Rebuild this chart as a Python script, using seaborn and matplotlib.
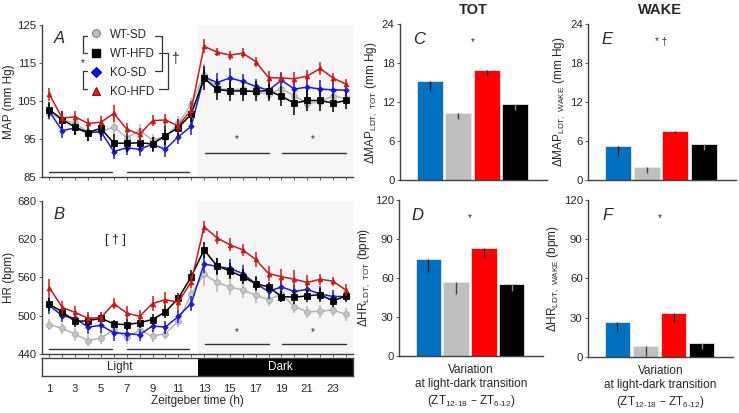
import numpy as np
import pandas as pd
import matplotlib
matplotlib.use("Agg")
import matplotlib.pyplot as plt
from matplotlib.lines import Line2D
import seaborn as sns

# ---------------- data ----------------
zt = list(range(1, 25))
xtick_labels = [str(v) for v in range(1, 24, 2)]

map_wt_sd = [101.9, 100.2, 99.2, 96.9, 96.9, 98.3, 95.4, 97.3, 94.8, 95.6, 99.2, 104.1,
             112.0, 108.6, 108.0, 108.2, 107.2, 107.0, 108.2, 106.5, 104.4, 104.8, 106.5, 105.6]
map_wt_hfd = [102.8, 100.2, 98.2, 96.8, 97.9, 94.0, 94.0, 94.1, 93.8, 96.0, 98.1, 101.6,
              111.1, 108.1, 107.7, 107.7, 107.6, 107.8, 106.3, 104.5, 105.2, 105.2, 104.5, 105.2]
map_ko_sd = [102.3, 97.3, 98.0, 96.7, 97.0, 91.8, 92.8, 92.4, 93.7, 92.4, 95.7, 98.4,
             111.4, 109.9, 111.1, 110.2, 108.9, 107.9, 110.5, 108.2, 108.7, 108.2, 108.0, 107.9]
map_ko_hfd = [106.8, 100.6, 100.9, 99.2, 99.5, 101.8, 97.7, 96.3, 99.9, 100.1, 98.5, 102.8,
              119.4, 117.9, 117.1, 117.6, 115.4, 111.2, 111.1, 110.9, 111.6, 113.6, 111.1, 109.5]

map_wt_sd_err = [1.8, 1.7, 1.8, 2.0, 1.9, 2.5, 1.8, 1.7, 1.5, 1.8, 1.8, 1.8,
                 2.8, 2.0, 1.8, 1.8, 1.6, 1.5, 1.8, 1.5, 1.2, 1.5, 1.5, 1.4]
map_wt_hfd_err = [2.0, 2.2, 2.0, 2.1, 2.2, 2.3, 2.3, 1.8, 1.8, 2.5, 2.2, 2.0,
                  3.2, 2.8, 2.7, 2.6, 2.6, 2.8, 2.5, 3.0, 2.8, 2.7, 2.3, 2.3]
map_ko_sd_err = [2.0, 2.0, 1.8, 2.2, 2.3, 2.0, 1.8, 1.7, 2.0, 2.1, 2.0, 2.2,
                 2.0, 2.5, 2.5, 2.0, 2.0, 2.2, 2.0, 2.4, 2.5, 2.5, 2.2, 1.6]
map_ko_hfd_err = [1.8, 1.5, 1.6, 1.5, 1.7, 2.3, 1.7, 1.6, 1.5, 1.6, 1.8, 2.2,
                  1.8, 1.0, 1.2, 1.3, 1.3, 1.8, 1.6, 1.7, 1.6, 1.6, 1.4, 1.3]

hr_wt_sd = [486, 480, 471, 461, 465, 478, 466, 477, 468, 472, 491, 534,
            565, 552, 545, 540, 532, 525, 534, 514, 506, 507, 509, 502]
hr_wt_hfd = [518, 506, 491, 492, 496, 487, 486, 489, 494, 506, 527, 561,
             603, 578, 570, 561, 550, 545, 530, 529, 531, 533, 523, 531]
hr_ko_sd = [516, 500, 496, 482, 485, 473, 472, 470, 484, 482, 499, 519,
            581, 577, 574, 566, 550, 538, 545, 538, 541, 534, 530, 530]
hr_ko_hfd = [544, 513, 505, 496, 497, 519, 504, 499, 519, 525, 521, 553,
             639, 622, 611, 603, 588, 566, 561, 557, 552, 557, 554, 540]

hr_wt_sd_err = [9, 9, 10, 9, 10, 9, 10, 9, 9, 9, 9, 9, 18, 15, 12, 12, 12, 10, 9, 10, 9, 10, 10, 10]
hr_wt_hfd_err = [10, 8, 9, 9, 8, 7, 9, 8, 8, 10, 8, 10, 12, 12, 12, 12, 10, 8, 8, 10, 9, 10, 9, 8]
hr_ko_sd_err = [14, 10, 9, 10, 12, 12, 12, 9, 10, 10, 10, 12, 14, 14, 15, 14, 12, 12, 12, 10, 12, 12, 10, 8]
hr_ko_hfd_err = [14, 10, 10, 9, 8, 9, 11, 10, 12, 12, 12, 10, 10, 10, 10, 9, 12, 12, 12, 15, 12, 9, 7, 9]

bar_groups = ["KO-SD", "WT-SD", "KO-HFD", "WT-HFD"]
dmap_tot = [15.3, 10.3, 17.0, 11.8]
dmap_tot_err = [1.6, 0.9, 0.9, 1.0]
dmap_wake = [5.3, 2.0, 7.6, 5.6]
dmap_wake_err = [1.4, 0.9, 0.5, 1.0]
dhr_tot = [74.6, 57.1, 82.8, 55.1]
dhr_tot_err = [9.8, 9.5, 7.7, 4.9]
dhr_wake = [26.5, 8.2, 33.4, 10.3]
dhr_wake_err = [7.2, 7.7, 7.2, 4.4]

# ---------------- style ----------------
sns.set_style("ticks")
plt.rcParams["font.family"] = ["Liberation Sans", "DejaVu Sans"]
plt.rcParams["mathtext.default"] = "regular"

W, H = 739, 413
fig = plt.figure(figsize=(W / 100, H / 100), dpi=100)

def rect(l, t, r, b):
    return [l / W, 1 - b / H, (r - l) / W, (b - t) / H]

SP = "#404040"
TFS = 8.2
LFS = 8.5

series = [
    ("WT-SD", dict(color="#b4b4b4", marker="o", mfc="#c4c4c4", mec="#a8a8a8", ms=4.2), "#b4b4b4"),
    ("KO-SD", dict(color="#1c1cc8", marker="D", mfc="#1c1cc8", mec="#1c1cc8", ms=2.8), "#1c1cc8"),
    ("WT-HFD", dict(color="#000000", marker="s", mfc="#000000", mec="#000000", ms=4.0), "#000000"),
    ("KO-HFD", dict(color="#c41a1a", marker="^", mfc="#c41a1a", mec="#c41a1a", ms=3.4), "#c41a1a"),
]
map_vals = {"WT-SD": (map_wt_sd, map_wt_sd_err), "WT-HFD": (map_wt_hfd, map_wt_hfd_err),
            "KO-SD": (map_ko_sd, map_ko_sd_err), "KO-HFD": (map_ko_hfd, map_ko_hfd_err)}
hr_vals = {"WT-SD": (hr_wt_sd, hr_wt_sd_err), "WT-HFD": (hr_wt_hfd, hr_wt_hfd_err),
           "KO-SD": (hr_ko_sd, hr_ko_sd_err), "KO-HFD": (hr_ko_hfd, hr_ko_hfd_err)}

XL = (0.43, 24.55)

def style_line_ax(ax, ylim, yticks):
    ax.set_xlim(*XL)
    ax.set_ylim(*ylim)
    ax.set_yticks(yticks)
    ax.set_xticks(zt)
    ax.set_xticklabels([])
    for s in ["top", "right"]:
        ax.spines[s].set_visible(False)
    for s in ["left", "bottom"]:
        ax.spines[s].set_color(SP)
        ax.spines[s].set_linewidth(1.0)
    ax.tick_params(axis="both", length=2, width=0.6, color=SP, labelsize=TFS, pad=2)
    ax.axvspan(12.5, XL[1], color="#f6f6f6", zorder=0, lw=0)

def draw_lines(ax, vals):
    for i, (name, kw, ec) in enumerate(series):
        y, e = vals[name]
        ax.errorbar(zt, y, yerr=e, fmt="none", ecolor=ec, elinewidth=1.1, capsize=0, zorder=3 + i)
        sns.lineplot(x=zt, y=y, ax=ax, color=kw["color"], marker=kw["marker"],
                     markerfacecolor=kw["mfc"], markeredgecolor=kw["mec"], markersize=kw["ms"],
                     markeredgewidth=0.6, linewidth=1.1, zorder=3.5 + i)

# ---------- Panel A ----------
axA = fig.add_axes(rect(42, 25, 353, 177.5))
style_line_ax(axA, (85, 125), [85, 95, 105, 115, 125])
draw_lines(axA, map_vals)
axA.set_ylabel("MAP (mm Hg)", fontsize=LFS, labelpad=1.5)
axA.text(0.055, 0.91, "A", transform=axA.transAxes, fontsize=12, style="italic", ha="center", va="center")
# significance
axA.plot([1, 5.86], [86.5, 86.5], color="#333333", lw=1)
axA.plot([7, 11.8], [86.5, 86.5], color="#333333", lw=1)
axA.plot([13.1, 18], [91.4, 91.4], color="#333333", lw=1)
axA.plot([19.05, 24], [91.4, 91.4], color="#333333", lw=1)
axA.text(15.5, 95, "*", ha="center", va="center", fontsize=7)
axA.text(21.4, 95, "*", ha="center", va="center", fontsize=7)

# legend
handles = [
    Line2D([], [], ls="none", marker="o", ms=5.6, mfc="#c0c0c0", mec="#808080", mew=0.8),
    Line2D([], [], ls="none", marker="s", ms=5.4, mfc="#000000", mec="#000000"),
    Line2D([], [], ls="none", marker="D", ms=5.2, mfc="#1010ff", mec="#0000a0", mew=0.8),
    Line2D([], [], ls="none", marker="^", ms=5.8, mfc="#e02020", mec="#a00000", mew=0.8),
]
leg = axA.legend(handles, ["WT-SD", "WT-HFD", "KO-SD", "KO-HFD"], loc="upper left",
                 bbox_to_anchor=((90 - 42) / 311, 1 - (28.5 - 25) / 152.5), frameon=False,
                 fontsize=8.3, handlelength=1.0, handletextpad=0.75, labelspacing=0.62,
                 borderpad=0, borderaxespad=0)

def fline(xs, ys, **kw):
    fig.add_artist(Line2D([x / W for x in xs], [1 - y / H for y in ys], color="#333333", lw=0.9, **kw))

r1, r2, r3, r4 = 35.7, 53.0, 71.0, 89.0
fline([87, 83, 83, 87], [r1, r1, r2, r2])
fline([87, 83, 83, 87], [r3, r3, r4, r4])
fig.text(83 / W, 1 - 63 / H, "*", fontsize=7, ha="center", va="center")
fline([155, 161.5, 161.5, 155], [r1, r1, r3, r3])
fline([159, 168.3, 168.3, 159], [r2, r2, r4, r4])
fig.text(175 / W, 1 - 59.5 / H, "†", fontsize=10, ha="center", va="center")

# ---------- Panel B ----------
axB = fig.add_axes(rect(42, 200.7, 353, 354))
style_line_ax(axB, (440, 680), [440, 500, 560, 620, 680])
draw_lines(axB, hr_vals)
axB.set_ylabel("HR (bpm)", fontsize=LFS, labelpad=1.5)
axB.text(0.055, 0.91, "B", transform=axB.transAxes, fontsize=12, style="italic", ha="center", va="center")
axB.text(6.1, 619, "[ † ]", ha="center", va="center", fontsize=9)
axB.plot([1, 5.86], [447.9, 447.9], color="#333333", lw=1)
axB.plot([7, 11.8], [447.9, 447.9], color="#333333", lw=1)
axB.plot([13.1, 18], [455.7, 455.7], color="#333333", lw=1)
axB.plot([19.05, 24], [455.7, 455.7], color="#333333", lw=1)
axB.text(15.5, 475, "*", ha="center", va="center", fontsize=7)
axB.text(21.4, 475, "*", ha="center", va="center", fontsize=7)

# ---------- Light/Dark bar ----------
axL = fig.add_axes(rect(42, 358, 353, 375.5))
axL.set_xlim(*XL)
axL.set_ylim(0, 1)
axL.axvspan(XL[0], 12.5, color="white", lw=0)
axL.axvspan(12.5, XL[1], color="black", lw=0)
axL.text((XL[0] + 12.5) / 2, 0.5, "Light", ha="center", va="center", fontsize=LFS)
axL.text(18.9, 0.5, "Dark", ha="center", va="center", fontsize=LFS, color="white")
axL.set_yticks([])
axL.set_xticks(list(range(1, 24, 2)))
axL.set_xticklabels(xtick_labels)
axL.tick_params(axis="x", length=0, labelsize=TFS, pad=6)
for s in axL.spines.values():
    s.set_color(SP)
    s.set_linewidth(1.0)
axL.set_xlabel("Zeitgeber time (h)", fontsize=LFS, labelpad=1)

# ---------- Bar panels ----------
bar_colors = ["#0070c0", "#bfbfbf", "#ff0000", "#000000"]
err_colors = ["#202020", "#404040", "#202020", "#8a8a8a"]

def bar_panel(r, vals, errs, ylim, yticks, ylabel, letter, stars, xlabel=None):
    ax = fig.add_axes(r)
    sns.barplot(x=bar_groups, y=vals, hue=bar_groups, palette=bar_colors, legend=False,
                width=0.91, ax=ax, edgecolor="#e8e8e8", linewidth=0.6, saturation=1)
    for i in range(4):
        ax.errorbar([i], [vals[i]], yerr=[[errs[i]], [0]], fmt="none", ecolor=err_colors[i],
                    elinewidth=1.0, capsize=0, zorder=5)
    ax.set_xlim(-1.04, 4.12)
    ax.set_ylim(*ylim)
    ax.set_yticks(yticks)
    ax.set_xticks([])
    for s in ["top", "right"]:
        ax.spines[s].set_visible(False)
    for s in ["left", "bottom"]:
        ax.spines[s].set_color(SP)
        ax.spines[s].set_linewidth(1.0)
    ax.tick_params(axis="y", length=2, width=0.6, color=SP, labelsize=TFS, pad=2)
    ax.set_ylabel(ylabel, fontsize=LFS, labelpad=2)
    ax.text(0.13, 0.9, letter, transform=ax.transAxes, fontsize=12, style="italic", ha="center", va="center")
    ax.text(1.5, ylim[1] * 0.885, stars, ha="center", va="center", fontsize=7)
    if xlabel:
        ax.set_xlabel(xlabel, fontsize=LFS, labelpad=6, linespacing=1.25)
    return ax

xlab = "Variation\nat light-dark transition\n(ZT$_{12\u201018}$ \u2013 ZT$_{6\u201012}$)"

axC = bar_panel(rect(400, 24.3, 547, 180.3), dmap_tot, dmap_tot_err, (0, 24), [0, 6, 12, 18, 24],
                "\u0394MAP$_{LDT,\\ TOT}$ (mm Hg)", "C", "*")
axE = bar_panel(rect(588.3, 24.3, 736, 180.3), dmap_wake, dmap_wake_err, (0, 24), [0, 6, 12, 18, 24],
                "\u0394MAP$_{LDT,\\ WAKE}$ (mm Hg)", "E", "* \u2020")
axD = bar_panel(rect(399.3, 200, 543, 355.7), dhr_tot, dhr_tot_err, (0, 120), [0, 30, 60, 90, 120],
                "\u0394HR$_{LDT,\\ TOT}$ (bpm)", "D", "*", xlab)
axF = bar_panel(rect(588.3, 200, 733, 356.7), dhr_wake, dhr_wake_err, (0, 120), [0, 30, 60, 90, 120],
                "\u0394HR$_{LDT,\\ WAKE}$ (bpm)", "F", "*", xlab)

fig.text(473 / W, 1 - 10 / H, "TOT", fontsize=10.5, fontweight="bold", ha="center", va="center")
fig.text(660 / W, 1 - 10 / H, "WAKE", fontsize=10.5, fontweight="bold", ha="center", va="center")

fig.savefig("out.png", dpi=100)
